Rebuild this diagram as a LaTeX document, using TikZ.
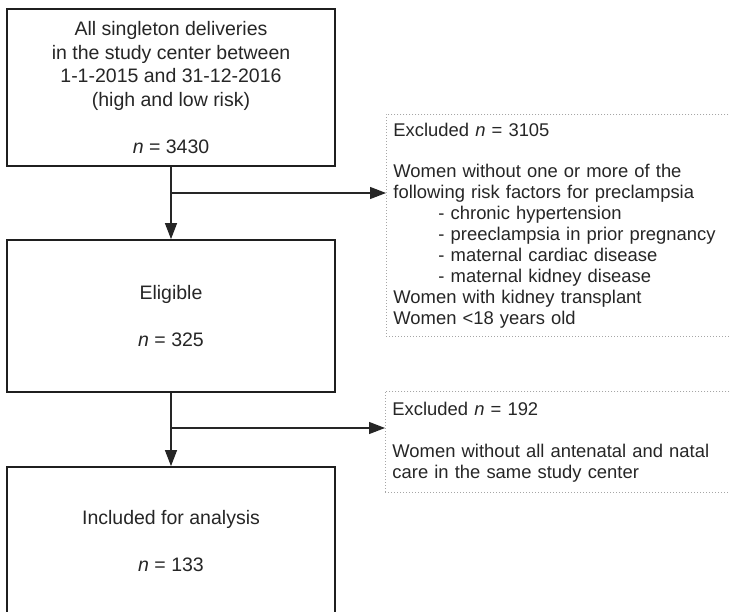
\documentclass[tikz,border=0pt]{standalone}
\usepackage{fontspec}
\setmainfont{Liberation Sans}
\usetikzlibrary{arrows.meta}
\begin{document}
\begin{tikzpicture}[x=1pt,y=-1pt,
  mainbox/.style={draw=black!88, line width=1.8pt, minimum width=328pt, inner sep=0pt,
    align=center, text=black!85, font=\fontsize{19.5pt}{23.5pt}\selectfont},
  exbox/.style={draw=black!35, dash pattern=on 1pt off 2pt, line width=0.9pt, text width=370pt,
    inner xsep=7pt, inner ysep=0pt, align=left, anchor=north west, text=black!85,
    font=\fontsize{18.4pt}{20.9pt}\selectfont},
  link/.style={draw=black!85, line width=1.2pt, -{Triangle[length=16pt,width=12pt]}}]
\useasboundingbox (0,0) rectangle (730,612);
\clip (0,0) rectangle (730,612);
\fill[white] (0,0) rectangle (730,612);

\node[mainbox, minimum height=157pt] (all) at (171,87.5)
  {All singleton deliveries\\in the study center between\\1-1-2015 and 31-12-2016\\(high and low risk)\\[23.5pt]\textit{n} = 3430};
\node[mainbox, minimum height=152pt] (elig) at (171,316)
  {Eligible\\[23.5pt]\textit{n} = 325};
\node[mainbox, minimum height=149pt] (incl) at (171,541.5)
  {Included for analysis\\[23.5pt]\textit{n} = 133};

\node[exbox, minimum height=222pt] (ex1) at (386,114)
  {Excluded \textit{n} = 3105\\[20.9pt]
   Women without one or more of the\\
   following risk factors for preclampsia\\
   \hspace*{45pt}- chronic hypertension\\
   \hspace*{45pt}- preeclampsia in prior pregnancy\\
   \hspace*{45pt}- maternal cardiac disease\\
   \hspace*{45pt}- maternal kidney disease\\
   Women with kidney transplant\\
   Women <18 years old};
\node[exbox, minimum height=101pt] (ex2) at (385,391)
  {Excluded \textit{n} = 192\\[20.9pt]
   Women without all antenatal and natal\\
   care in the same study center};

\coordinate (b1) at (171,193);
\coordinate (b2) at (171,428);
\draw[link] (all.south) -- (elig.north);
\draw[link] (b1) -- (b1 -| ex1.west);
\draw[link] (elig.south) -- (incl.north);
\draw[link] (b2) -- (b2 -| ex2.west);
\end{tikzpicture}
\end{document}
